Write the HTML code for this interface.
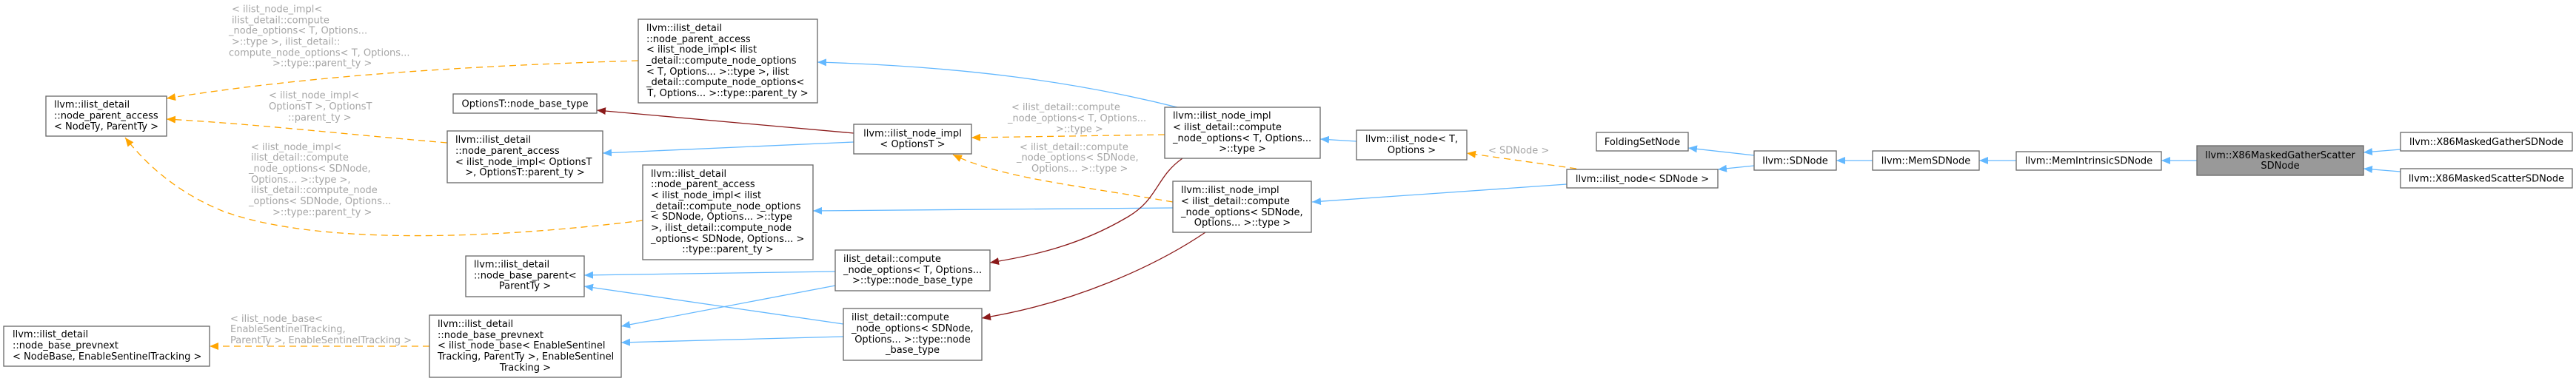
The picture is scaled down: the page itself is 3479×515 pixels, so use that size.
<!DOCTYPE html>
<html><head><meta charset="utf-8"><style>
html,body{margin:0;padding:0;background:#fff;}
svg{display:block;}
text{font-family:"DejaVu Sans","Liberation Sans",sans-serif;font-size:13px;fill:#000;}
.l{fill:#a6a6a6;}
rect{fill:#fff;stroke:#666;stroke-width:1.3;}
.b{stroke:#63b8ff;fill:none;stroke-width:1.3;}
.o{stroke:#ffa500;fill:none;stroke-width:1.3;stroke-dasharray:9,6;}
.r{stroke:#8b1a1a;fill:none;stroke-width:1.3;}
</style></head><body>
<svg width="3479" height="515" viewBox="0 0 3479 515" xmlns="http://www.w3.org/2000/svg">
<defs>
<marker id="mb" markerUnits="userSpaceOnUse" markerWidth="12" markerHeight="10" refX="12" refY="5" orient="auto"><path d="M0,0 L12,5 L0,10 z" fill="#63b8ff"/></marker>
<marker id="mo" markerUnits="userSpaceOnUse" markerWidth="12" markerHeight="10" refX="12" refY="5" orient="auto"><path d="M0,0 L12,5 L0,10 z" fill="#ffa500"/></marker>
<marker id="mr" markerUnits="userSpaceOnUse" markerWidth="12" markerHeight="10" refX="12" refY="5" orient="auto"><path d="M0,0 L12,5 L0,10 z" fill="#8b1a1a"/></marker>
</defs>

<!-- edges -->
<path class="o" marker-end="url(#mo)" d="M862,82 C600,90 400,105 225,133"/>
<path class="o" marker-end="url(#mo)" d="M604,193 C450,180 350,168 225,161"/>
<path class="o" marker-end="url(#mo)" d="M868,298 C650,325 420,330 300,285 C240,260 200,225 169,186"/>
<path class="o" marker-end="url(#mo)" d="M580,468 L283,468"/>
<path class="r" marker-end="url(#mr)" d="M1153,180 L806,149"/>
<path class="b" marker-end="url(#mb)" d="M1153,192 L814,207"/>
<path class="b" marker-end="url(#mb)" d="M1590,145 C1450,110 1300,90 1104,84"/>
<path class="b" marker-end="url(#mb)" d="M1584,281 L1098,285"/>
<path class="b" marker-end="url(#mb)" d="M1128,367 L789,372"/>
<path class="b" marker-end="url(#mb)" d="M1139,438 L789,387"/>
<path class="b" marker-end="url(#mb)" d="M1128,386 L839,441"/>
<path class="b" marker-end="url(#mb)" d="M1139,455 L839,463"/>
<path class="o" marker-end="url(#mo)" d="M1573,182 L1312,186"/>
<path class="o" marker-end="url(#mo)" d="M1584,273 C1450,250 1350,240 1287,209"/>
<path class="r" marker-end="url(#mr)" d="M1597,214 C1560,240 1565,270 1520,295 C1460,330 1400,345 1337,355"/>
<path class="r" marker-end="url(#mr)" d="M1628,314 C1560,360 1450,410 1326,430"/>
<path class="b" marker-end="url(#mb)" d="M1832,191 L1783,188"/>
<path class="o" marker-end="url(#mo)" d="M2129,228 L1981,207"/>
<path class="b" marker-end="url(#mb)" d="M2116,249 L1772,273"/>
<path class="b" marker-end="url(#mb)" d="M2369,210 L2280,200"/>
<path class="b" marker-end="url(#mb)" d="M2369,224 L2320,229"/>
<path class="b" marker-end="url(#mb)" d="M2529,217 L2480,217"/>
<path class="b" marker-end="url(#mb)" d="M2723,217 L2673,217"/>
<path class="b" marker-end="url(#mb)" d="M2967,217 L2919,217"/>
<path class="b" marker-end="url(#mb)" d="M3242,202 L3192,206"/>
<path class="b" marker-end="url(#mb)" d="M3242,232 L3192,228"/>

<!-- edge labels -->
<g class="lbl">
<text class="l" x="313" y="16.5">&lt; ilist_node_impl&lt;</text>
<text class="l" x="313" y="31.5">ilist_detail::compute</text>
<text class="l" x="309" y="45.5">_node_options&lt; T, Options...</text>
<text class="l" x="313" y="60.5">&gt;::type &gt;, ilist_detail::</text>
<text class="l" x="309" y="75.5">compute_node_options&lt; T, Options...</text>
<text class="l" x="368" y="89.5">&gt;::type::parent_ty &gt;</text>

<text class="l" x="363" y="133">&lt; ilist_node_impl&lt;</text>
<text class="l" x="363" y="148">OptionsT &gt;, OptionsT</text>
<text class="l" x="389" y="163">::parent_ty &gt;</text>

<text class="l" x="339" y="203">&lt; ilist_node_impl&lt;</text>
<text class="l" x="339" y="217">ilist_detail::compute</text>
<text class="l" x="336" y="232">_node_options&lt; SDNode,</text>
<text class="l" x="339" y="247">Options... &gt;::type &gt;,</text>
<text class="l" x="339" y="261">ilist_detail::compute_node</text>
<text class="l" x="336" y="276">_options&lt; SDNode, Options...</text>
<text class="l" x="368" y="291">&gt;::type::parent_ty &gt;</text>

<text class="l" x="311" y="435">&lt; ilist_node_base&lt;</text>
<text class="l" x="311" y="449">EnableSentinelTracking,</text>
<text class="l" x="311" y="464">ParentTy &gt;, EnableSentinelTracking &gt;</text>

<text class="l" x="1366" y="149">&lt; ilist_detail::compute</text>
<text class="l" x="1361" y="164">_node_options&lt; T, Options...</text>
<text class="l" x="1426" y="178.5">&gt;::type &gt;</text>

<text class="l" x="1377" y="203">&lt; ilist_detail::compute</text>
<text class="l" x="1373" y="217">_node_options&lt; SDNode,</text>
<text class="l" x="1393" y="232">Options... &gt;::type &gt;</text>

<text class="l" x="2010" y="207.5">&lt; SDNode &gt;</text>
</g>

<!-- nodes -->
<rect x="62" y="130" width="163" height="54"/>
<text x="73" y="145.5">llvm::ilist_detail</text>
<text x="73" y="160.5">::node_parent_access</text>
<text x="73" y="175">&lt; NodeTy, ParentTy &gt;</text>

<rect x="5" y="441" width="278" height="54"/>
<text x="17" y="456">llvm::ilist_detail</text>
<text x="17" y="471">::node_base_prevnext</text>
<text x="17" y="486">&lt; NodeBase, EnableSentinelTracking &gt;</text>

<rect x="862" y="26" width="242" height="113"/>
<text x="873" y="41.8">llvm::ilist_detail</text>
<text x="873" y="56.8">::node_parent_access</text>
<text x="873" y="70.8">&lt; ilist_node_impl&lt; ilist</text>
<text x="873" y="85.8">_detail::compute_node_options</text>
<text x="873" y="100.8">&lt; T, Options... &gt;::type &gt;, ilist</text>
<text x="873" y="115.2">_detail::compute_node_options&lt;</text>
<text x="983" y="130.2" text-anchor="middle">T, Options... &gt;::type::parent_ty &gt;</text>

<rect x="612" y="127" width="194" height="26"/>
<text x="709" y="144.5" text-anchor="middle">OptionsT::node_base_type</text>

<rect x="604" y="177" width="210" height="70"/>
<text x="615" y="192.8">llvm::ilist_detail</text>
<text x="615" y="207.8">::node_parent_access</text>
<text x="615" y="222.8">&lt; ilist_node_impl&lt; OptionsT</text>
<text x="709" y="236.8" text-anchor="middle">&gt;, OptionsT::parent_ty &gt;</text>

<rect x="868" y="223" width="230" height="128"/>
<text x="879" y="238.8">llvm::ilist_detail</text>
<text x="879" y="252.8">::node_parent_access</text>
<text x="879" y="267.8">&lt; ilist_node_impl&lt; ilist</text>
<text x="879" y="282.8">_detail::compute_node_options</text>
<text x="879" y="296.8">&lt; SDNode, Options... &gt;::type</text>
<text x="879" y="311.8"> &gt;, ilist_detail::compute_node</text>
<text x="879" y="326.8">_options&lt; SDNode, Options... &gt;</text>
<text x="983" y="341.2" text-anchor="middle">::type::parent_ty &gt;</text>

<rect x="629" y="346" width="160" height="55"/>
<text x="640" y="361.5">llvm::ilist_detail</text>
<text x="640" y="376.5">::node_base_parent&lt;</text>
<text x="709" y="390.5" text-anchor="middle">ParentTy &gt;</text>

<rect x="580" y="426" width="259" height="84"/>
<text x="591" y="441.8">llvm::ilist_detail</text>
<text x="591" y="456.8">::node_base_prevnext</text>
<text x="591" y="470.8">&lt; ilist_node_base&lt; EnableSentinel</text>
<text x="591" y="485.8">Tracking, ParentTy &gt;, EnableSentinel</text>
<text x="709.5" y="501.2" text-anchor="middle">Tracking &gt;</text>

<rect x="1153" y="168" width="159" height="40"/>
<text x="1232.5" y="184.5" text-anchor="middle">llvm::ilist_node_impl</text>
<text x="1232.5" y="198.8" text-anchor="middle">&lt; OptionsT &gt;</text>

<rect x="1128" y="338" width="209" height="55"/>
<text x="1139" y="353.8">ilist_detail::compute</text>
<text x="1139" y="368.8">_node_options&lt; T, Options...</text>
<text x="1232.5" y="382.8" text-anchor="middle">&gt;::type::node_base_type</text>

<rect x="1139" y="417" width="187" height="70"/>
<text x="1150" y="432.8">ilist_detail::compute</text>
<text x="1150" y="447.8">_node_options&lt; SDNode,</text>
<text x="1232.5" y="462.8" text-anchor="middle">Options... &gt;::type::node</text>
<text x="1232.5" y="477.2" text-anchor="middle">_base_type</text>

<rect x="1573" y="145" width="210" height="69"/>
<text x="1584" y="160.5">llvm::ilist_node_impl</text>
<text x="1584" y="175.8">&lt; ilist_detail::compute</text>
<text x="1584" y="190.8">_node_options&lt; T, Options...</text>
<text x="1678" y="204.8" text-anchor="middle">&gt;::type &gt;</text>

<rect x="1584" y="245" width="187" height="69"/>
<text x="1595" y="260.8">llvm::ilist_node_impl</text>
<text x="1595" y="275.8">&lt; ilist_detail::compute</text>
<text x="1595" y="290.8">_node_options&lt; SDNode,</text>
<text x="1678" y="304.8" text-anchor="middle">Options... &gt;::type &gt;</text>

<rect x="1832" y="176" width="149" height="40"/>
<text x="1906.5" y="191.8" text-anchor="middle">llvm::ilist_node&lt; T,</text>
<text x="1906.5" y="206.8" text-anchor="middle">Options &gt;</text>

<rect x="2156" y="179" width="124" height="25"/>
<text x="2218" y="196.2" text-anchor="middle">FoldingSetNode</text>

<rect x="2116" y="229" width="204" height="25"/>
<text x="2218" y="246" text-anchor="middle">llvm::ilist_node&lt; SDNode &gt;</text>

<rect x="2369" y="204" width="111" height="26"/>
<text x="2424.5" y="221.5" text-anchor="middle">llvm::SDNode</text>

<rect x="2529" y="204" width="144" height="26"/>
<text x="2601" y="221.5" text-anchor="middle">llvm::MemSDNode</text>

<rect x="2723" y="205" width="196" height="25"/>
<text x="2821" y="221.5" text-anchor="middle">llvm::MemIntrinsicSDNode</text>

<rect x="2967" y="197" width="225" height="40" style="fill:#999"/>
<text x="3079.5" y="213.8" text-anchor="middle">llvm::X86MaskedGatherScatter</text>
<text x="3079.5" y="227.8" text-anchor="middle">SDNode</text>

<rect x="3242" y="179" width="232" height="25"/>
<text x="3358" y="196.2" text-anchor="middle">llvm::X86MaskedGatherSDNode</text>

<rect x="3242" y="228" width="232" height="26"/>
<text x="3358" y="245.5" text-anchor="middle">llvm::X86MaskedScatterSDNode</text>
</svg>
</body></html>
